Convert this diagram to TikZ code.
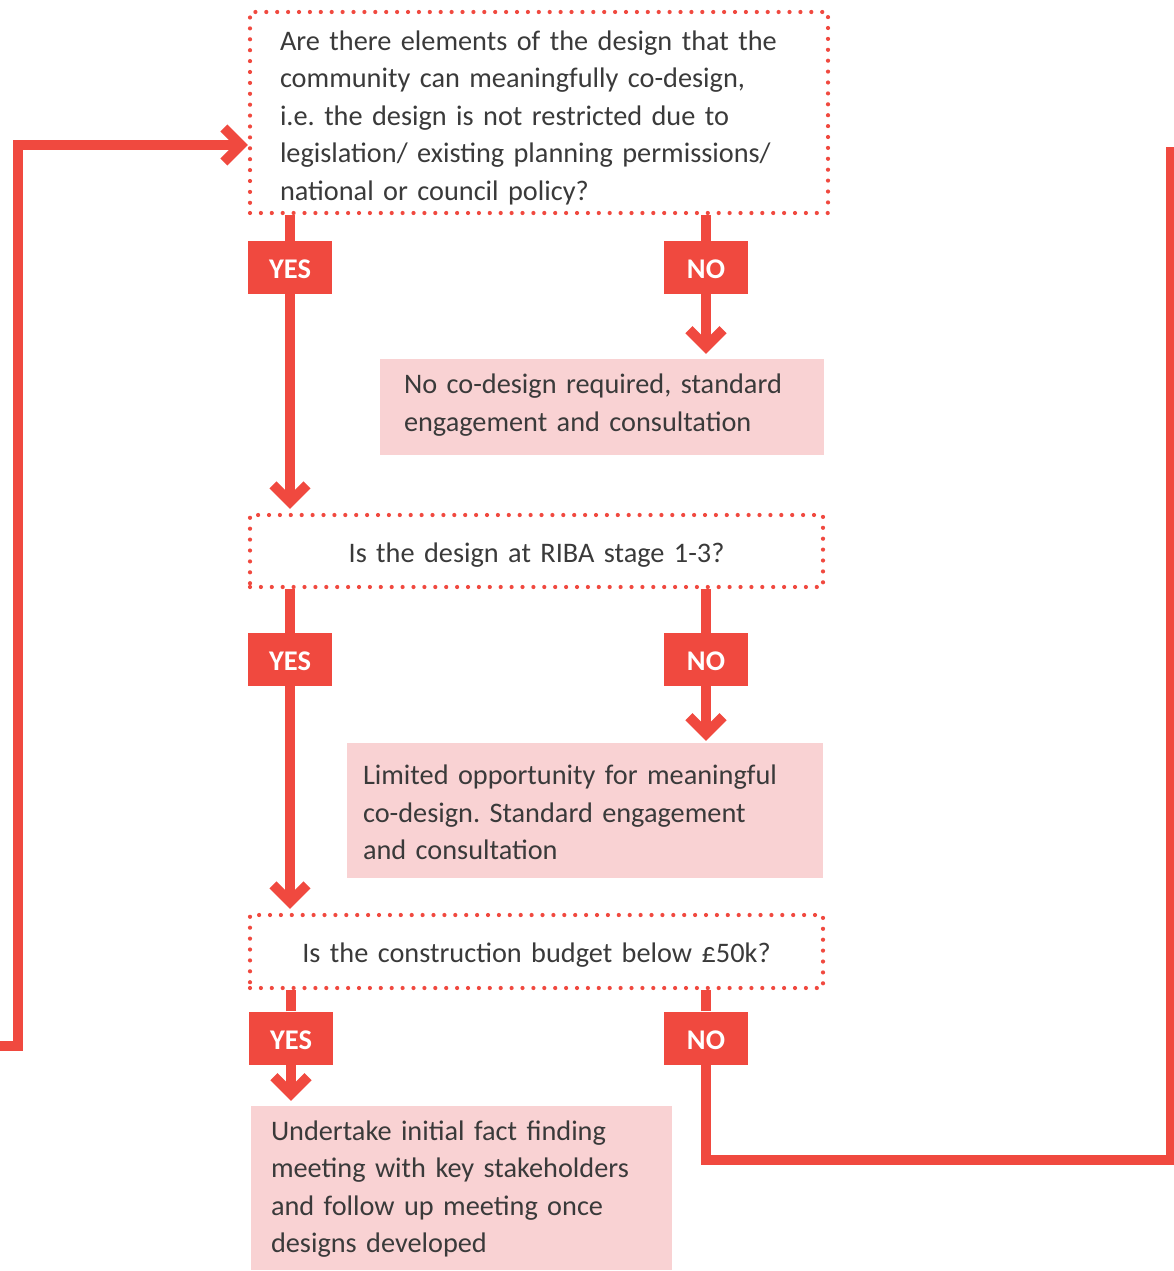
\documentclass[tikz,border=0pt]{standalone}
\usepackage{fontspec}
\setmainfont{Carlito}
\usetikzlibrary{arrows.meta,backgrounds}
\definecolor{cred}{HTML}{F0493F}
\definecolor{cpink}{HTML}{F9D2D3}
\definecolor{ctext}{HTML}{3A3A3A}
\frenchspacing
\newcommand{\lowerby}[2]{\raisebox{-#1}[\height][\depth]{#2}}
\begin{document}
\begin{tikzpicture}[x=1pt,y=-1pt,
 txt/.style={font=\fontsize{28.3}{37.5}\selectfont, text=ctext},
 question/.style={txt, draw=cred, line width=4.2pt, dash pattern=on 0pt off 10.9pt, line cap=round, inner ysep=0pt},
 answer/.style={txt, fill=cpink, inner ysep=0pt, align=left},
 tag/.style={fill=cred, text=white, font=\fontsize{28.5}{30}\selectfont\bfseries, minimum width=84pt, minimum height=53pt, inner sep=0pt},
 conn/.style={draw=cred, line width=10pt, line join=miter},
 tip/.style={-{Straight Barb[length=17pt,width=34pt]}},
]
\useasboundingbox (0,0) rectangle (1174,1271);
\clip (0,0) rectangle (1174,1271);

\node[question, text width=518pt, inner xsep=30pt, minimum height=201pt, align=left] (q1) at (539,112.5)
 {\lowerby{5pt}{\parbox{518pt}{Are there elements of the design that the\\community can meaningfully co-design,\\i.e. the design is not restricted due to\\legislation/ existing planning permissions/\\national or council policy?}}};
\node[tag] (yes1) at (290,267.5) {\lowerby{2pt}{YES}};
\node[tag] (no1) at (706,267.5) {\lowerby{2pt}{NO}};
\node[answer, text width=396pt, inner xsep=24pt, minimum height=96pt] (a1) at (602,407)
 {\lowerby{-2pt}{\parbox{396pt}{No co-design required, standard\\engagement and consultation}}};

\node[question, text width=533pt, inner xsep=20pt, minimum height=72pt, align=center] (q2) at (536.5,551)
 {\lowerby{4pt}{Is the design at RIBA stage 1-3?}};
\node[tag] (yes2) at (290,659.5) {\lowerby{2pt}{YES}};
\node[tag] (no2) at (706,659.5) {\lowerby{2pt}{NO}};
\node[answer, text width=444pt, inner xsep=16pt, minimum height=135pt] (a2) at (585,810.5)
 {\lowerby{2pt}{\parbox{444pt}{Limited opportunity for meaningful\\co-design. Standard engagement\\and consultation}}};

\node[question, text width=533pt, inner xsep=20pt, minimum height=73pt, align=center] (q3) at (536.5,951.5)
 {\lowerby{4pt}{Is the construction budget below £50k?}};
\node[tag] (yes3) at (291,1038) {\lowerby{2pt}{YES}};
\node[tag] (no3) at (706,1038) {\lowerby{2pt}{NO}};
\node[answer, text width=381pt, inner xsep=20pt, minimum height=164pt] (a3) at (461.5,1188)
 {\lowerby{1pt}{\parbox{381pt}{Undertake initial fact finding\\meeting with key stakeholders\\and follow up meeting once\\designs developed}}};

\coordinate (lb) at (-30,1046);
\coordinate (lt) at (18,145);
\coordinate (rb) at (1171,1160);
\coordinate (rt) at (1171,147);

\begin{scope}[on background layer]
 \draw[conn] (yes1) -- (yes1 |- q1.south);
 \draw[conn,tip,shorten >=4pt] (yes1) -- (yes1 |- q2.north);
 \draw[conn] (no1) -- (no1 |- q1.south);
 \draw[conn,tip,shorten >=5pt] (no1) -- (no1 |- a1.north);

 \draw[conn] (yes2) -- (yes2 |- q2.south);
 \draw[conn,tip,shorten >=4pt] (yes2) -- (yes2 |- q3.north);
 \draw[conn] (no2) -- (no2 |- q2.south);
 \draw[conn,tip,shorten >=2pt] (no2) -- (no2 |- a2.north);

 \draw[conn] (yes3) -- (yes3 |- q3.south);
 \draw[conn,tip,shorten >=5pt] (yes3) -- (yes3 |- a3.north);
 \draw[conn] (no3) -- (no3 |- q3.south);
 \draw[conn] (no3) |- (rb) -- (rt);

 \draw[conn,tip] (lb) -| (lt) -- (lt -| q1.west);
\end{scope}
\end{tikzpicture}
\end{document}
